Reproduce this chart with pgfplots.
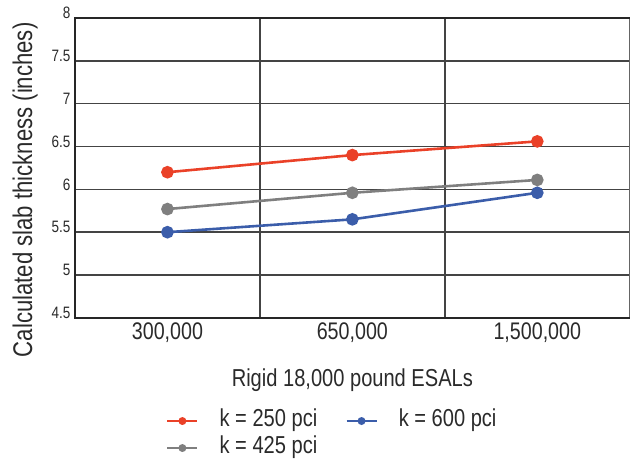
\documentclass[border=0pt]{standalone}
\usepackage{pgfplots}
\pgfplotsset{compat=1.18}
\usepackage{fontspec}
\setmainfont{Liberation Sans}[FakeStretch=0.82]
\definecolor{cred}{HTML}{EA4128}
\definecolor{cgray}{HTML}{7F7F7F}
\definecolor{cblue}{HTML}{3B5DAA}
\definecolor{cgrid}{HTML}{444444}
\definecolor{ctext}{HTML}{2A2A2A}
\begin{document}
\begin{tikzpicture}[x=1pt,y=1pt]
\begin{axis}[
  scale only axis,
  width=555pt, height=300pt,
  xmin=-0.5, xmax=2.5,
  ymin=4.5, ymax=8,
  xtick={0,1,2},
  xticklabels={300{,}000,650{,}000,1{,}500{,}000},
  ytick={4.5,5,5.5,6,6.5,7,7.5,8},
  yticklabels={4.5,5,5.5,6,6.5,7,7.5,8},
  major tick length=0pt,
  extra x ticks={0.5,1.5},
  extra x tick labels={},
  extra x tick style={grid=major, major grid style={cgrid, line width=1.4pt}},
  ymajorgrids,
  major grid style={cgrid, line width=1.4pt},
  axis line style={draw=none},
  xticklabel style={font=\fontsize{24}{26}\selectfont, color=ctext, yshift=-1pt},
  yticklabel style={font=\fontsize{16.5}{18}\selectfont, color=ctext, yshift=5pt, xshift=-1pt},
  xlabel={Rigid 18{,}000 pound ESALs},
  xlabel style={font=\fontsize{24.5}{26}\selectfont, color=ctext, at={(axis description cs:0.5,-0.207)}, anchor=center},
  ylabel={Calculated slab thickness (inches)},
  ylabel style={font=\fontsize{27}{29}\selectfont, color=ctext, at={(axis description cs:-0.09,0.427)}, anchor=center},
  legend columns=2,
  legend style={draw=none, fill=none, inner sep=0pt, at={(rel axis cs:0.164,-0.305)}, anchor=north west,
    font=\fontsize{24.5}{26}\selectfont, text=ctext,
    nodes={inner sep=1pt, text height=16pt, text depth=5pt},
    /tikz/every odd column/.append style={column sep=20pt},
    /tikz/every even column/.append style={column sep=27pt},
    row sep=4pt},
  legend image code/.code={
    \draw[#1, line width=2.5pt] (0pt,0pt) -- (30pt,0pt);
    \fill[#1, draw=none] (15pt,0pt) circle (4pt);
  },
  every axis plot/.append style={line width=2.6pt, mark=*, mark size=5pt},
  clip=false,
]
\draw[cgray!80!black, line width=1.2pt] (rel axis cs:1,0) -- (rel axis cs:1,1);
\draw[black!85, line width=2.5pt] (rel axis cs:1,1) -- (rel axis cs:0,1) -- (rel axis cs:0,0) -- (rel axis cs:1,0);
\addplot[cred, mark options={fill=cred, draw=none}] coordinates {(0,6.20) (1,6.40) (2,6.56)};
\addlegendentry{k = 250 pci}
\addplot[cblue, mark options={fill=cblue, draw=none}] coordinates {(0,5.50) (1,5.65) (2,5.96)};
\addlegendentry{k = 600 pci}
\addplot[cgray, mark options={fill=cgray, draw=none}] coordinates {(0,5.77) (1,5.96) (2,6.11)};
\addlegendentry{k = 425 pci}
\end{axis}
\path ([shift={(-75pt,-138pt)}]current axis.south west) rectangle ([shift={(1pt,18pt)}]current axis.north east);
\end{tikzpicture}
\end{document}
